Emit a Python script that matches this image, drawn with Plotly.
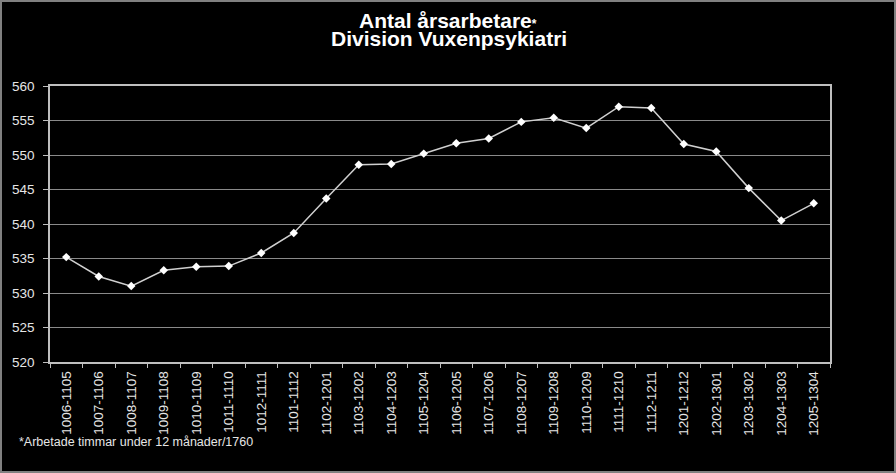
import plotly.graph_objects as go

categories = ["1006-1105", "1007-1106", "1008-1107", "1009-1108", "1010-1109", "1011-1110",
              "1012-1111", "1101-1112", "1102-1201", "1103-1202", "1104-1203", "1105-1204",
              "1106-1205", "1107-1206", "1108-1207", "1109-1208", "1110-1209", "1111-1210",
              "1112-1211", "1201-1212", "1202-1301", "1203-1302", "1204-1303", "1205-1304"]
values = [535.2, 532.4, 531.0, 533.3, 533.8, 533.9, 535.8, 538.7, 543.7, 548.6, 548.7, 550.2,
          551.7, 552.4, 554.8, 555.4, 553.9, 557.0, 556.8, 551.6, 550.5, 545.2, 540.5, 543.0]
y_ticks = [520, 525, 530, 535, 540, 545, 550, 555, 560]

title_line1 = 'Antal årsarbetare<span style="font-size:12px">*</span>'
title_line2 = "Division Vuxenpsykiatri"
footnote = "*Arbetade timmar under 12 månader/1760"

W, H = 896, 473
ml, mr, mt, mb = 50, 66, 86, 111
pw, ph = W - ml - mr, H - mt - mb

def px(x):
    return (x - ml) / pw

def py(y):
    return (H - mb - y) / ph

fig = go.Figure()
fig.add_trace(go.Scatter(
    x=categories, y=values, mode="lines+markers",
    line=dict(color="#d0d0d0", width=1.5),
    marker=dict(symbol="diamond", size=6.5, color="white"),
    hoverinfo="x+y",
))

font = "Liberation Sans, Arial, sans-serif"
fig.update_layout(
    width=W, height=H,
    margin=dict(l=ml, r=mr, t=mt, b=mb),
    paper_bgcolor="black", plot_bgcolor="black",
    showlegend=False,
    font=dict(family=font, color="#e6e6e6", size=13),
    xaxis=dict(
        type="category", tickangle=-90, tickson="boundaries",
        ticks="outside", ticklen=4, tickcolor="#bfbfbf",
        showline=True, linecolor="#bfbfbf", linewidth=1.5, mirror=True,
        showgrid=False, tickfont=dict(size=13.5, color="#e6e6e6"),
        range=[-0.5, len(categories) - 0.5],
        ticklabelstandoff=2,
    ),
    yaxis=dict(
        range=[520, 560], tickvals=y_ticks,
        ticks="outside", ticklen=5, tickcolor="#bfbfbf",
        showline=True, linecolor="#bfbfbf", linewidth=1.5, mirror=True,
        showgrid=True, gridcolor="#8a8a8a", gridwidth=1,
        zeroline=False, tickfont=dict(size=13.5, color="#e6e6e6"),
        ticklabelstandoff=6,
    ),
    annotations=[
        dict(text="<b>" + title_line1 + "</b>", x=px(448), y=py(20.5), xref="paper", yref="paper",
             xanchor="center", yanchor="middle", showarrow=False,
             font=dict(family=font, size=21, color="white")),
        dict(text="<b>" + title_line2 + "</b>", x=px(449), y=py(38.5), xref="paper", yref="paper",
             xanchor="center", yanchor="middle", showarrow=False,
             font=dict(family=font, size=21, color="white")),
        dict(text=footnote, x=px(17), y=py(442), xref="paper", yref="paper",
             xanchor="left", yanchor="middle", showarrow=False,
             font=dict(family=font, size=12.5, color="#e6e6e6")),
    ],
    shapes=[
        dict(type="rect", xref="paper", yref="paper",
             x0=px(1), x1=px(W - 1), y0=py(H - 1), y1=py(1),
             line=dict(color="#808080", width=2), fillcolor="rgba(0,0,0,0)", layer="above"),
    ],
)

fig.write_html("out.html")
